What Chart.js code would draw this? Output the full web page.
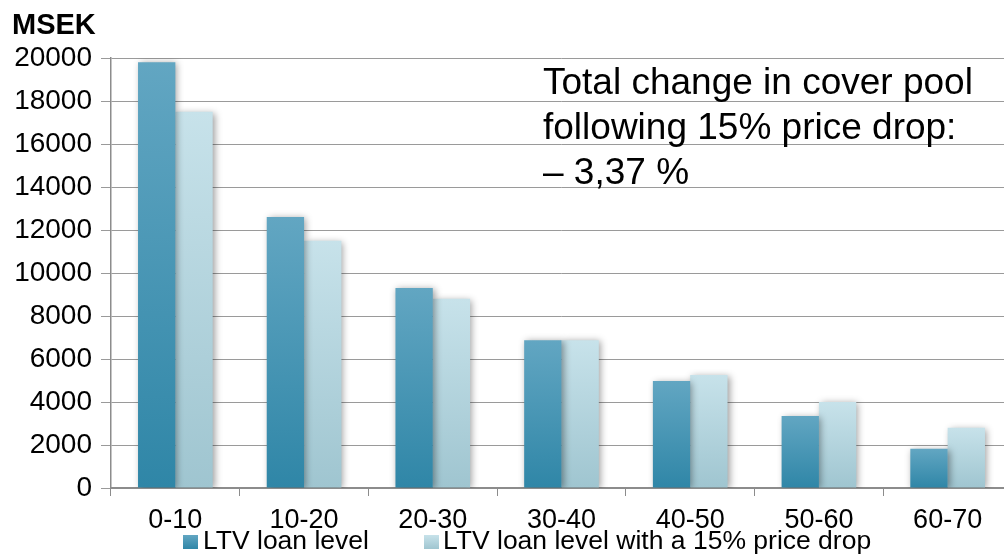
<!DOCTYPE html>
<html>
<head>
<meta charset="utf-8">
<script src="https://cdn.jsdelivr.net/npm/chart.js@4.4.1/dist/chart.umd.min.js"></script>
<style>
  html, body { margin: 0; padding: 0; background: #ffffff; overflow: hidden; }
  #wrap { width: 1004px; height: 557px; overflow: hidden; position: relative; }
  canvas { display: block; }
</style>
</head>
<body>
<div id="wrap"><canvas id="c" width="1012" height="557"></canvas></div>
<script>
// LTV buckets (%)
const categories = ['0-10', '10-20', '20-30', '30-40', '40-50', '50-60', '60-70'];
// Cover pool volume per LTV bucket, MSEK
const ltvLoanLevel = [19800, 12600, 9300, 6870, 4980, 3350, 1820];
const ltvAfterPriceDrop = [17500, 11500, 8800, 6870, 5260, 4000, 2800];
const seriesNames = ['LTV loan level', 'LTV loan level with a 15% price drop'];
const yTicks = [0, 2000, 4000, 6000, 8000, 10000, 12000, 14000, 16000, 18000, 20000];
const unitLabel = 'MSEK';
const noteLines = ['Total change in cover pool', 'following 15% price drop:', '\u2013 3,37 %'];

const FONT = '"Liberation Sans", Arial, Helvetica, sans-serif';
const palette = {
  dark: ['#62a6c2', '#2f86a7'],
  light: ['#c7e2ea', '#9fc5d0']
};

// vertical gradient spanning a single bar (top of bar to the zero line)
function barGradient(ctx, stops) {
  const chart = ctx.chart;
  const y = chart.scales.y;
  if (!y || ctx.type !== 'data') return stops[1];
  const top = y.getPixelForValue(ctx.raw);
  const base = y.getPixelForValue(0);
  if (!isFinite(top) || !isFinite(base) || base - top < 1) return stops[1];
  const g = chart.ctx.createLinearGradient(0, top, 0, base);
  g.addColorStop(0, stops[0]);
  g.addColorStop(1, stops[1]);
  return g;
}

// soft drop shadow under the bars
const barShadow = {
  id: 'barShadow',
  beforeDatasetsDraw(chart) {
    const c = chart.ctx;
    c.save();
    c.shadowColor = 'rgba(0,0,0,0.38)';
    c.shadowBlur = 7;
    c.shadowOffsetX = 2;
    c.shadowOffsetY = 1;
  },
  afterDatasetsDraw(chart) {
    chart.ctx.restore();
  }
};

// unit caption, note and legend
const decorations = {
  id: 'decorations',
  afterDraw(chart) {
    const c = chart.ctx;
    c.save();
    c.fillStyle = '#000';
    c.textAlign = 'left';
    c.textBaseline = 'alphabetic';

    c.font = 'bold 29px ' + FONT;
    c.fillText(unitLabel, 12, 34);

    c.font = '37px ' + FONT;
    const baselines = [94, 139, 184];
    noteLines.forEach((t, i) => c.fillText(t, 543, baselines[i]));

    // legend
    const items = [
      { box: 183, text: 203, stops: palette.dark, label: seriesNames[0] },
      { box: 424, text: 443, stops: palette.light, label: seriesNames[1] }
    ];
    c.font = '26.5px ' + FONT;
    items.forEach(it => {
      const g = c.createLinearGradient(0, 535, 0, 549);
      g.addColorStop(0, it.stops[0]);
      g.addColorStop(1, it.stops[1]);
      c.fillStyle = g;
      c.fillRect(it.box, 535, 15, 14);
      c.fillStyle = '#000';
      c.fillText(it.label, it.text, 549);
    });
    c.restore();
  }
};

new Chart(document.getElementById('c'), {
  type: 'bar',
  data: {
    labels: categories,
    datasets: [
      {
        label: seriesNames[0],
        data: ltvLoanLevel,
        backgroundColor: ctx => barGradient(ctx, palette.dark),
        borderWidth: 0
      },
      {
        label: seriesNames[1],
        data: ltvAfterPriceDrop,
        backgroundColor: ctx => barGradient(ctx, palette.light),
        borderWidth: 0
      }
    ]
  },
  options: {
    responsive: false,
    animation: false,
    devicePixelRatio: 1,
    layout: { padding: { top: 58, right: 0, bottom: 24, left: 0 } },
    plugins: {
      legend: { display: false },
      tooltip: { enabled: false },
      title: { display: false }
    },
    datasets: {
      bar: { barPercentage: 1.0, categoryPercentage: 0.58 }
    },
    scales: {
      x: {
        offset: true,
        grid: {
          display: true,
          offset: true,
          drawOnChartArea: false,
          drawTicks: true,
          tickLength: 8,
          color: '#8c8c8c',
          lineWidth: 1
        },
        border: { display: true, color: '#8c8c8c', width: 2 },
        ticks: {
          color: '#000',
          font: { family: FONT, size: 27 },
          padding: 8,
          maxRotation: 0,
          autoSkip: false
        },
        afterFit(scale) { scale.height = 45; }
      },
      y: {
        min: 0,
        max: 20000,
        afterBuildTicks(scale) { scale.ticks = yTicks.map(v => ({ value: v })); },
        grid: {
          color: '#9a9a9a',
          lineWidth: 1,
          drawTicks: true,
          tickLength: 10
        },
        border: { display: true, color: '#8c8c8c', width: 1.5 },
        ticks: {
          color: '#000',
          font: { family: FONT, size: 28 },
          padding: 9,
          callback: v => String(v)
        },
        afterFit(scale) { scale.width = 111; }
      }
    }
  },
  plugins: [barShadow, decorations]
});
</script>
</body>
</html>
